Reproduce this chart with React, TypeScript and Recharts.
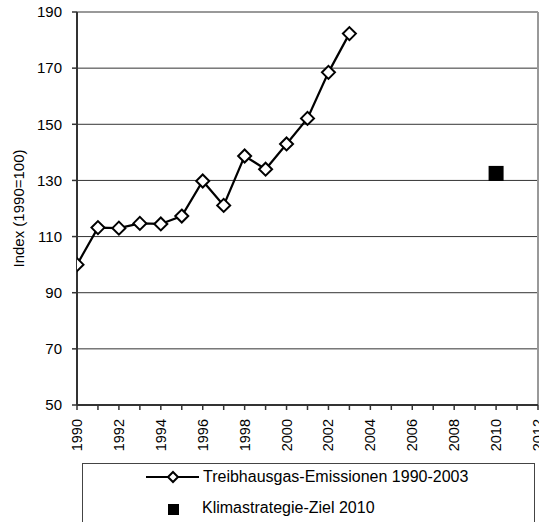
import { CartesianGrid, ComposedChart, Line, ReferenceLine, Scatter, XAxis, YAxis } from "recharts";

const years = [1990, 1991, 1992, 1993, 1994, 1995, 1996, 1997, 1998, 1999, 2000, 2001, 2002, 2003];
const emissions = [100, 113.2, 113, 114.7, 114.5, 117.3, 129.8, 121.1, 138.7, 134, 143, 152.1, 168.5, 182.3];
const targetYear = [2010];
const targetValue = [132.5];
const xTicks = [1990, 1991, 1992, 1993, 1994, 1995, 1996, 1997, 1998, 1999, 2000, 2001, 2002, 2003, 2004, 2005, 2006, 2007, 2008, 2009, 2010, 2011, 2012];
const yTicks = [50, 70, 90, 110, 130, 150, 170, 190];

const lineData = years.map((y, i) => ({ year: y, value: emissions[i] }));
const targetData = targetYear.map((y, i) => ({ year: y, value: targetValue[i] }));

const font = "Liberation Sans, Arial, sans-serif";

const Diamond = (props: any) => {
  const { cx, cy, size = 6.5 } = props;
  if (cx == null || cy == null) return null;
  const r = size;
  return (
    <polygon
      points={`${cx},${cy - r} ${cx + r},${cy} ${cx},${cy + r} ${cx - r},${cy}`}
      fill="#fff"
      stroke="#000"
      strokeWidth={2}
    />
  );
};

const Square = (props: any) => {
  const { cx, cy } = props;
  return <rect x={cx - 7.5} y={cy - 7.5} width={15} height={15} fill="#000" />;
};

const YearTick = (props: any) => {
  const { x, y, payload } = props;
  if (payload.value % 2 !== 0) return null;
  return (
    <text
      x={x}
      y={y + 7}
      transform={`rotate(-90 ${x} ${y + 7})`}
      textAnchor="end"
      dominantBaseline="central"
      fontSize={14.5}
      fontFamily={font}
      fill="#000"
    >
      {payload.value}
    </text>
  );
};

export default function App() {
  return (
    <div style={{ position: "absolute", left: 0, top: 0, width: 539, height: 522, background: "#fff", overflow: "hidden" }}>
      <ComposedChart width={539} height={522} margin={{ top: 12, right: 1, bottom: 77, left: 0 }}>
        <CartesianGrid vertical={false} stroke="#333" />
        <XAxis
          dataKey="year"
          type="number"
          domain={[1990, 2012]}
          ticks={xTicks}
          interval={0}
          allowDataOverflow
          height={40}
          tick={<YearTick />}
          tickSize={5}
          axisLine={{ stroke: "#333", strokeWidth: 2 }}
          tickLine={{ stroke: "#333", strokeWidth: 1.5 }}
        />
        <YAxis
          type="number"
          domain={[50, 190]}
          ticks={yTicks}
          interval={0}
          width={77}
          tickSize={5}
          tickMargin={10}
          tick={{ fill: "#000", fontSize: 15, fontFamily: font }}
          axisLine={{ stroke: "#333", strokeWidth: 2 }}
          tickLine={{ stroke: "#333", strokeWidth: 1.5 }}
          label={{ value: "Index (1990=100)", angle: -90, position: "insideLeft", offset: 19, style: { textAnchor: "middle", fill: "#000", fontSize: 15, fontFamily: font } }}
        />
        <ReferenceLine y={190} stroke="#999" strokeWidth={2} />
        <ReferenceLine x={2012} stroke="#999" strokeWidth={2} />
        <Line
          data={lineData}
          dataKey="value"
          type="linear"
          stroke="#000"
          strokeWidth={2.2}
          dot={<Diamond size={6.5} />}
          activeDot={false}
          isAnimationActive={false}
        />
        <Scatter data={targetData} dataKey="value" shape={<Square />} isAnimationActive={false} />
      </ComposedChart>
      <div
        style={{
          position: "absolute",
          left: 82,
          top: 463,
          width: 451,
          height: 80,
          border: "1px solid #444",
          fontFamily: font,
          fontSize: 16,
          color: "#000",
        }}
      >
        <svg style={{ position: "absolute", left: 62, top: 3 }} width={56} height={20}>
          <line x1={1} y1={10} x2={54} y2={10} stroke="#000" strokeWidth={2} />
          <Diamond cx={28} cy={10} size={5} />
        </svg>
        <div style={{ position: "absolute", left: 120, top: 4, lineHeight: "18px" }}>Treibhausgas-Emissionen 1990-2003</div>
        <div style={{ position: "absolute", left: 85, top: 40, width: 11, height: 11, background: "#000" }} />
        <div style={{ position: "absolute", left: 119, top: 35, lineHeight: "18px" }}>Klimastrategie-Ziel 2010</div>
      </div>
    </div>
  );
}
